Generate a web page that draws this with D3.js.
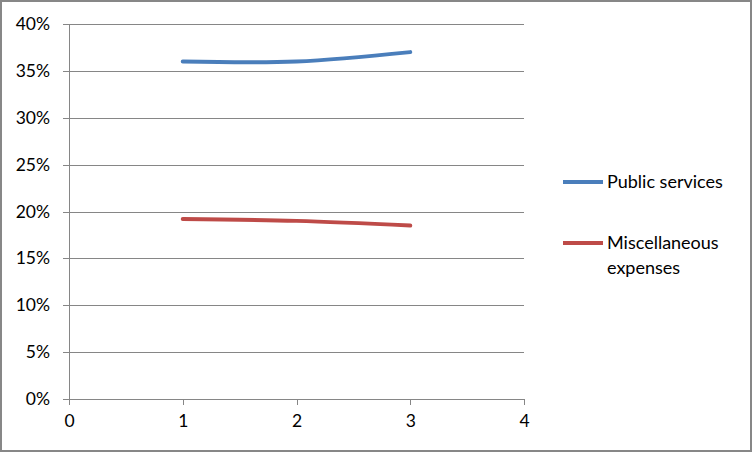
<!DOCTYPE html>
<html>
<head>
<meta charset="utf-8">
<script src="https://cdn.jsdelivr.net/npm/d3@7"></script>
<style>
  body { margin: 0; background: #fff; }
  svg text { font-family: Lato, "Liberation Sans", sans-serif; fill: #000; }
</style>
</head>
<body>
<div id="chart"></div>
<script>
// Data
const xValues = [1, 2, 3];
const publicServices = [0.36, 0.36, 0.37];
const miscExpenses = [0.192, 0.19, 0.185];
const seriesNames = ["Public services", "Miscellaneous expenses"];
const seriesColors = ["#4A7EBB", "#BE4B48"];
const xTicks = [0, 1, 2, 3, 4];
const yTicks = [0, 0.05, 0.1, 0.15, 0.2, 0.25, 0.3, 0.35, 0.4];

const width = 752;
const height = 452;
const plotLeft = 69, plotRight = 524, plotTop = 24, plotBottom = 399;

const svg = d3.select("#chart")
  .append("svg")
  .attr("width", width)
  .attr("height", height);

// outer border
svg.append("rect")
  .attr("x", 1).attr("y", 1)
  .attr("width", width - 2).attr("height", height - 2)
  .attr("fill", "#fff")
  .attr("stroke", "#878787")
  .attr("stroke-width", 2);

const xScale = d3.scaleLinear().domain([0, 4]).range([plotLeft, plotRight]);
const yScale = d3.scaleLinear().domain([0, 0.4]).range([plotBottom, plotTop]);

// horizontal gridlines + y labels
const gy = svg.append("g")
  .attr("transform", `translate(${plotLeft - 6},0)`)
  .call(d3.axisLeft(yScale).tickValues(yTicks).tickSize(0).tickPadding(13).tickFormat(d3.format(".0%")));
gy.select(".domain").remove();
gy.selectAll(".tick line").remove();
gy.selectAll(".tick")
  .append("line")
  .attr("x1", 0).attr("x2", plotRight - plotLeft + 6)
  .attr("stroke", "#868686")
  .attr("stroke-width", 1)
  .attr("shape-rendering", "crispEdges");
gy.selectAll("text").attr("font-size", 17.5).attr("fill", "#000");

// vertical axis line
svg.append("line")
  .attr("x1", plotLeft).attr("x2", plotLeft)
  .attr("y1", plotTop).attr("y2", plotBottom)
  .attr("stroke", "#868686")
  .attr("shape-rendering", "crispEdges");

// x axis
const gx = svg.append("g")
  .attr("transform", `translate(0,${plotBottom})`)
  .call(d3.axisBottom(xScale).tickValues(xTicks).tickSize(6).tickPadding(10).tickFormat(d3.format("d")));
gx.select(".domain").remove();
gx.selectAll(".tick line").attr("stroke", "#868686").attr("shape-rendering", "crispEdges");
gx.selectAll("text").attr("font-size", 17.5).attr("fill", "#000");

// lines
const line = d3.line()
  .x(d => xScale(d[0]))
  .y(d => yScale(d[1]))
  .curve(d3.curveCatmullRom.alpha(0.5));

[publicServices, miscExpenses].forEach((vals, i) => {
  svg.append("path")
    .datum(xValues.map((x, j) => [x, vals[j]]))
    .attr("fill", "none")
    .attr("stroke", seriesColors[i])
    .attr("stroke-width", 4)
    .attr("stroke-linecap", "round")
    .attr("d", line);
});

// legend
const legend = svg.append("g");
const legendY = [182, 243];
seriesNames.forEach((name, i) => {
  legend.append("line")
    .attr("x1", 563).attr("x2", 603)
    .attr("y1", legendY[i]).attr("y2", legendY[i])
    .attr("stroke", seriesColors[i])
    .attr("stroke-width", 4);
  const words = i === 0 ? [name] : ["Miscellaneous", "expenses"];
  const t = legend.append("text")
    .attr("x", 607)
    .attr("y", legendY[i] + 6)
    .attr("font-size", 18);
  words.forEach((w, k) => {
    t.append("tspan")
      .attr("x", 607)
      .attr("dy", k === 0 ? 0 : 25)
      .text(w);
  });
});
</script>
</body>
</html>
